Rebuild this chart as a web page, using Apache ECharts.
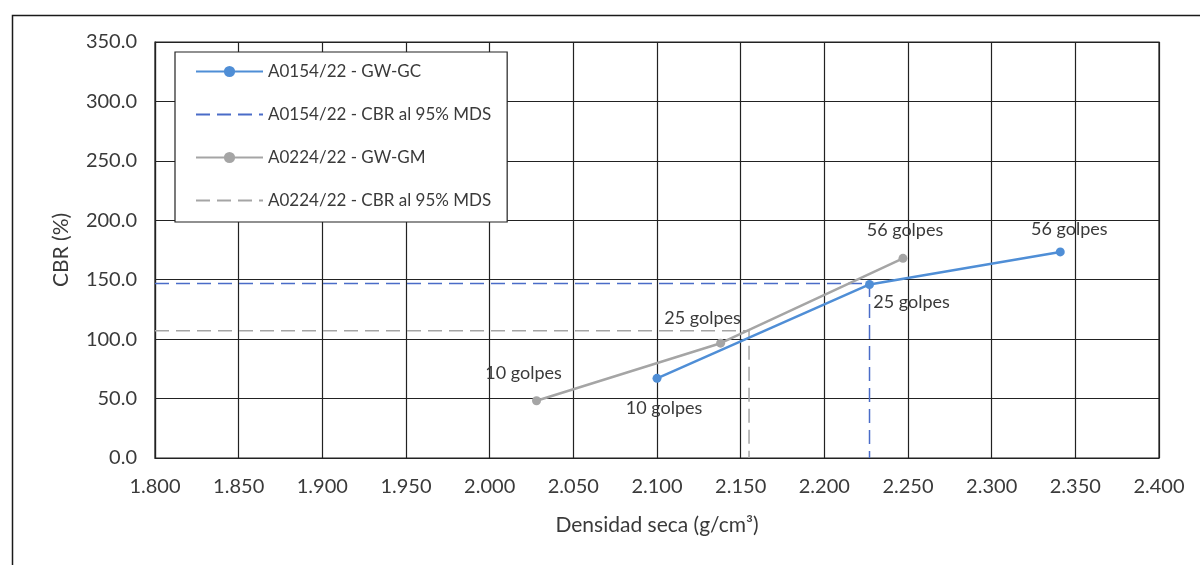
<!DOCTYPE html>
<html>
<head>
<meta charset="utf-8">
<title>CBR vs Densidad seca</title>
<script src="https://cdn.jsdelivr.net/npm/echarts@6/dist/echarts.min.js"></script>
<style>
  html, body { margin: 0; padding: 0; background: #ffffff; }
  #chart { width: 1200px; height: 565px; }
</style>
</head>
<body>
<div id="chart"></div>
<script>
// Blow counts per compaction specimen
const blowLabels = ['10 golpes', '25 golpes', '56 golpes'];

// Sample A0154/22 - GW-GC
const a0154Density = [2.100, 2.227, 2.341];
const a0154Cbr = [67.0, 146.0, 173.4];
// CBR at 95% of maximum dry density: [density, CBR]
const a0154Cbr95 = [2.227, 146.8];

// Sample A0224/22 - GW-GM
const a0224Density = [2.028, 2.138, 2.247];
const a0224Cbr = [48.2, 96.6, 168.0];
const a0224Cbr95 = [2.155, 107.0];

// Axis ranges: [min, max, interval]
const densityAxis = [1.8, 2.4, 0.05];
const cbrAxis = [0, 350, 50];

const seriesNames = [
  'A0154/22 - GW-GC',
  'A0154/22 - CBR al 95% MDS',
  'A0224/22 - GW-GM',
  'A0224/22 - CBR al 95% MDS'
];

const BLUE = '#4f8ed6';
const BLUE_DASH = '#4a6cc8';
const GRAY = '#a5a5a5';
const TEXT = '#3a3a3a';
const FONT = 'Lato, "Open Sans", sans-serif';
const CLEAR = 'rgba(0,0,0,0)';

function points(xs, ys) {
  return xs.map((x, i) => [x, ys[i]]);
}

// Reference line: horizontal from the axis start to the 95% MDS density, then down to zero
function refLine(pair) {
  return [[densityAxis[0], pair[1]], [pair[0], pair[1]], [pair[0], cbrAxis[0]]];
}

// Label offsets (pixels) from each marker centre
const a0154LabelOffsets = [[7, 30], [42, 18], [9, -23]];
const a0224LabelOffsets = [[-13, -28], [-18, -25], [2, -28]];

function labelled(xs, ys, offsets) {
  return points(xs, ys).map((p, i) => ({
    value: p,
    label: {
      show: true,
      formatter: blowLabels[i],
      position: 'inside',
      offset: offsets[i],
      align: 'center',
      verticalAlign: 'middle',
      color: TEXT,
      fontSize: 18,
      fontFamily: FONT
    }
  }));
}

const chart = echarts.init(document.getElementById('chart'), null, { renderer: 'canvas' });

chart.setOption({
  backgroundColor: '#ffffff',
  animation: false,
  graphic: [{
    type: 'rect',
    left: 10,
    top: 13,
    shape: { width: 1250, height: 600 },
    style: { fill: 'none', stroke: '#1a1a1a', lineWidth: 1.5 },
    silent: true,
    z: -10
  }],
  grid: {
    left: 155, right: 41, top: 42, bottom: 107,
    show: true, borderColor: '#222', borderWidth: 1.2
  },
  legend: {
    orient: 'vertical',
    left: 175,
    top: 52,
    data: [
      { name: seriesNames[0] },
      { name: seriesNames[1], itemStyle: { color: CLEAR, borderColor: CLEAR } },
      { name: seriesNames[2] },
      { name: seriesNames[3], itemStyle: { color: CLEAR, borderColor: CLEAR } }
    ],
    itemWidth: 67,
    itemHeight: 14,
    itemGap: 26,
    padding: [11, 16, 13, 20],
    backgroundColor: '#ffffff',
    borderColor: '#222',
    borderWidth: 1.2,
    textStyle: { color: TEXT, fontSize: 17, fontFamily: FONT },
    z: 10
  },
  xAxis: {
    type: 'value',
    min: densityAxis[0],
    max: densityAxis[1],
    interval: densityAxis[2],
    name: 'Densidad seca (g/cm³)',
    nameLocation: 'middle',
    nameGap: 57,
    nameTextStyle: { color: TEXT, fontSize: 21, fontFamily: FONT },
    axisLine: { show: true, lineStyle: { color: '#222', width: 1.2 } },
    axisTick: { show: false },
    axisLabel: {
      color: TEXT, fontSize: 20, fontFamily: FONT, margin: 19,
      formatter: v => v.toFixed(3)
    },
    splitLine: { show: true, lineStyle: { color: '#222', width: 1.2 } }
  },
  yAxis: {
    type: 'value',
    min: cbrAxis[0],
    max: cbrAxis[1],
    interval: cbrAxis[2],
    name: 'CBR (%)',
    nameLocation: 'middle',
    nameGap: 83,
    nameTextStyle: { color: TEXT, fontSize: 21, fontFamily: FONT },
    axisLine: { show: true, lineStyle: { color: '#222', width: 1.2 } },
    axisTick: { show: false },
    axisLabel: {
      color: TEXT, fontSize: 20, fontFamily: FONT, margin: 18,
      formatter: v => v.toFixed(1)
    },
    splitLine: { show: true, lineStyle: { color: '#222', width: 1.2 } }
  },
  series: [
    {
      name: seriesNames[0],
      type: 'line',
      data: labelled(a0154Density, a0154Cbr, a0154LabelOffsets),
      symbol: 'circle',
      symbolSize: 9,
      lineStyle: { color: BLUE, width: 2.5 },
      itemStyle: { color: BLUE },
      z: 4
    },
    {
      name: seriesNames[1],
      type: 'line',
      data: refLine(a0154Cbr95),
      symbol: 'none',
      lineStyle: { color: BLUE_DASH, width: 1.5, type: [14, 7] },
      itemStyle: { color: CLEAR },
      z: 2
    },
    {
      name: seriesNames[2],
      type: 'line',
      data: labelled(a0224Density, a0224Cbr, a0224LabelOffsets),
      symbol: 'circle',
      symbolSize: 9,
      lineStyle: { color: GRAY, width: 2.5 },
      itemStyle: { color: GRAY },
      z: 3
    },
    {
      name: seriesNames[3],
      type: 'line',
      data: refLine(a0224Cbr95),
      symbol: 'none',
      lineStyle: { color: GRAY, width: 1.5, type: [14, 7] },
      itemStyle: { color: CLEAR },
      z: 2
    }
  ]
});
</script>
</body>
</html>
